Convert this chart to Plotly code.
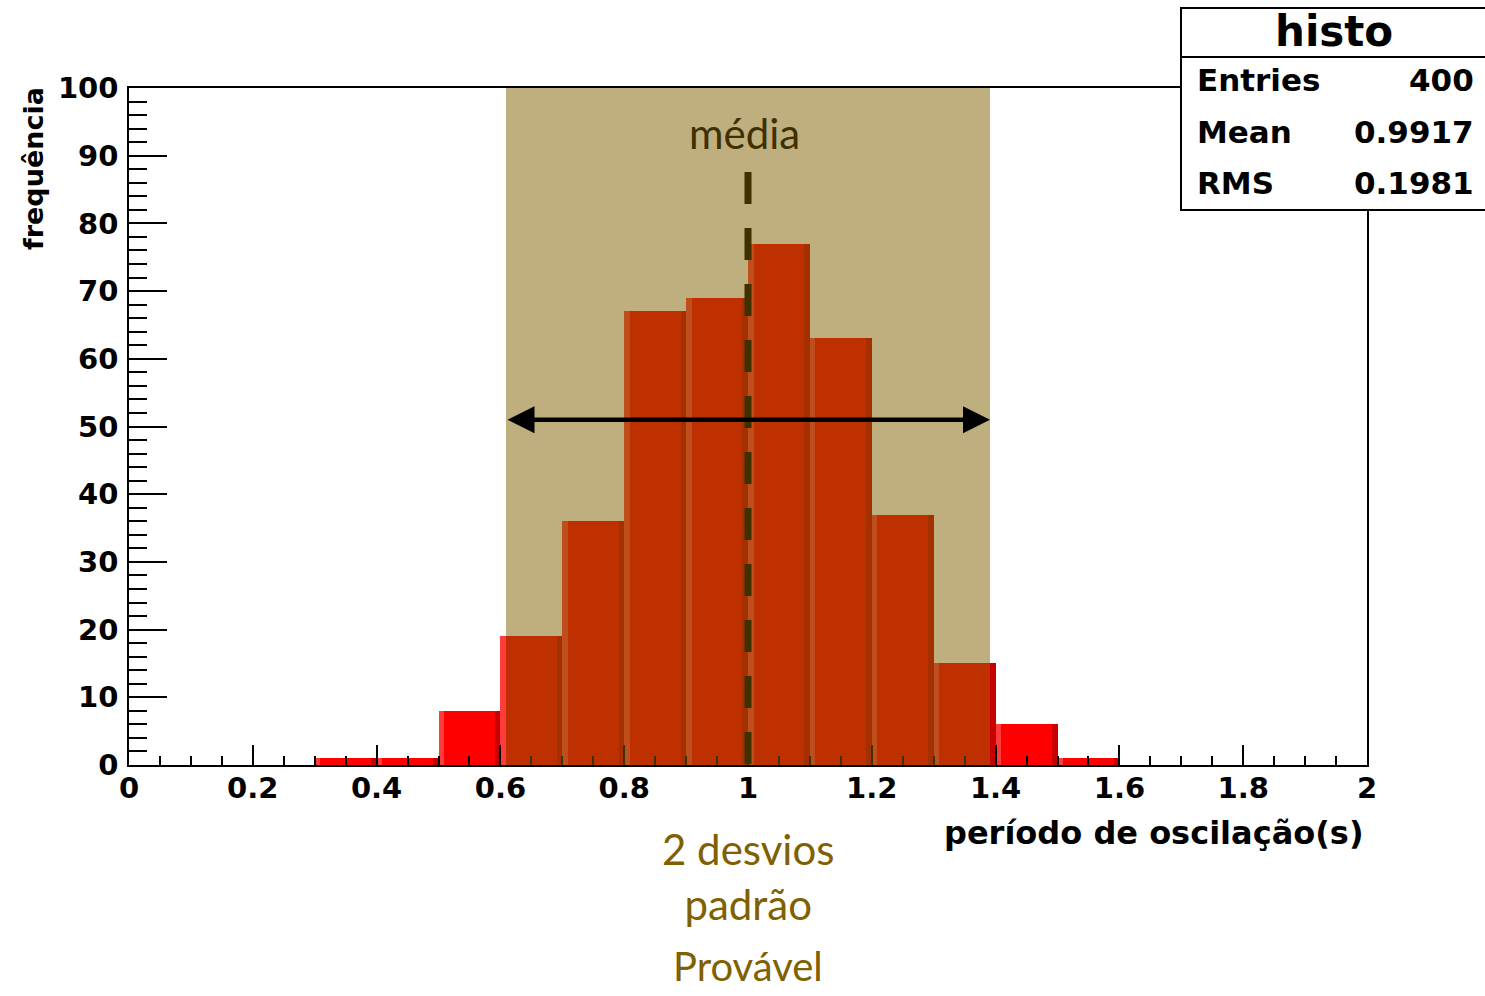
import plotly.graph_objects as go

# ---- data ----
bin_left = [0.3, 0.4, 0.5, 0.6, 0.7, 0.8, 0.9, 1.0, 1.1, 1.2, 1.3, 1.4, 1.5]
counts = [1, 1, 8, 19, 36, 67, 69, 77, 63, 37, 15, 6, 1]
bin_width = 0.1
x_ticks = [0, 0.2, 0.4, 0.6, 0.8, 1.0, 1.2, 1.4, 1.6, 1.8, 2.0]
x_tick_text = ["0", "0.2", "0.4", "0.6", "0.8", "1", "1.2", "1.4", "1.6", "1.8", "2"]
stats_labels = ["Entries", "Mean", "RMS"]
stats_values = ["400", "0.9917", "0.1981"]
mean_line = 1.0
band_lo, band_hi = 0.609, 1.391
arrow_y = 51
dash_top = 87.6

# ---- layout geometry (pixels) ----
W, H = 1485, 996
L, R, T, B = 129, 118, 88, 231
PW, PH = W - L - R, H - T - B


def px(xp):
    return (xp - L) / PW


def py(yp):
    return (H - B - yp) / PH


strip = 0.009
fig = go.Figure()
fig.add_trace(go.Bar(x=bin_left, y=counts, width=bin_width, offset=0,
                     marker=dict(color="#ff0000", line=dict(width=0)), showlegend=False))
fig.add_trace(go.Bar(x=bin_left, y=counts, width=strip, offset=0,
                     marker=dict(color="#ff3c3c", line=dict(width=0)), showlegend=False))
fig.add_trace(go.Bar(x=bin_left, y=counts, width=strip, offset=bin_width - strip,
                     marker=dict(color="#c80000", line=dict(width=0)), showlegend=False))

bold = dict(family="DejaVu Sans", color="black", weight="bold")

fig.update_layout(
    width=W, height=H, autosize=False,
    margin=dict(l=L, r=R, t=T, b=B, pad=0),
    paper_bgcolor="white", plot_bgcolor="white",
    barmode="overlay", bargap=0,
    xaxis=dict(range=[0, 2], tickvals=x_ticks, ticktext=x_tick_text,
               ticks="inside", ticklen=20, tickwidth=1.5, tickcolor="black",
               minor=dict(dtick=0.05, ticks="inside", ticklen=9, tickwidth=1.5, tickcolor="black"),
               showline=True, linecolor="black", linewidth=1.5, mirror=True,
               showgrid=False, zeroline=False, ticklabelstandoff=-4,
               tickfont=dict(size=29, **bold)),
    yaxis=dict(range=[0, 100], dtick=10,
               ticks="inside", ticklen=38, tickwidth=1.5, tickcolor="black",
               minor=dict(dtick=2, ticks="inside", ticklen=18, tickwidth=1.5, tickcolor="black"),
               showline=True, linecolor="black", linewidth=1.5, mirror=True,
               showgrid=False, zeroline=False, ticklabelstandoff=3,
               tickfont=dict(size=29, **bold)),
)

shapes = []
# dashed mean line (under the band)
shapes.append(dict(type="line", xref="x", yref="y", x0=mean_line, x1=mean_line, y0=dash_top, y1=0,
                   line=dict(color="black", width=7, dash="32px,24px"), layer="above"))
# shaded 2-sigma band
shapes.append(dict(type="rect", xref="x", yref="y", x0=band_lo, x1=band_hi, y0=0, y1=100,
                   fillcolor="rgb(128,96,0)", opacity=0.5, line=dict(width=0), layer="above"))
# stats box
shapes.append(dict(type="rect", xref="paper", yref="paper", x0=px(1181), x1=px(1495), y0=py(210), y1=py(8),
                   fillcolor="white", line=dict(color="black", width=2), layer="above"))
shapes.append(dict(type="line", xref="paper", yref="paper", x0=px(1181), x1=px(1495), y0=py(57), y1=py(57),
                   line=dict(color="black", width=2), layer="above"))
fig.update_layout(shapes=shapes)

ann = []
# double arrow
ann.append(dict(x=band_hi, y=arrow_y, ax=band_lo, ay=arrow_y, xref="x", yref="y", axref="x", ayref="y",
                text="", showarrow=True, arrowside="end+start", arrowhead=2, startarrowhead=2,
                arrowsize=1.2, startarrowsize=1.2, arrowwidth=4.5, arrowcolor="black",
                standoff=0, startstandoff=0))
ann.append(dict(x=0.995, y=93.3, xref="x", yref="y", text="média", showarrow=False,
                font=dict(family="Lato", size=42, color="#403000"), xanchor="center", yanchor="middle"))
ann.append(dict(x=px(748), y=py(876), xref="paper", yref="paper", text="2 desvios<br>padrão",
                showarrow=False, font=dict(family="Lato", size=42, color="#806000"),
                xanchor="center", yanchor="middle"))
ann.append(dict(x=px(748), y=py(966), xref="paper", yref="paper", text="Provável",
                showarrow=False, font=dict(family="Lato", size=40, color="#806000"),
                xanchor="center", yanchor="middle", borderpad=0))
# axis titles
ann.append(dict(x=px(33), y=py(169), xref="paper", yref="paper", text="frequência", textangle=-90,
                showarrow=False, font=dict(size=27, **bold), xanchor="center", yanchor="middle"))
ann.append(dict(x=px(1366), y=py(833), xref="paper", yref="paper", text="período de oscilação(s)",
                showarrow=False, font=dict(size=32, **bold), xanchor="right", yanchor="middle"))
# stats box text
ann.append(dict(x=px(1334), y=py(31), xref="paper", yref="paper", text="histo", showarrow=False,
                font=dict(size=42, **bold), xanchor="center", yanchor="middle"))
row_y = [80, 132, 183]
for lab, val, yy in zip(stats_labels, stats_values, row_y):
    ann.append(dict(x=px(1195), y=py(yy), xref="paper", yref="paper", text=lab, showarrow=False,
                    font=dict(size=31, **bold), xanchor="left", yanchor="middle"))
    ann.append(dict(x=px(1476), y=py(yy), xref="paper", yref="paper", text=val, showarrow=False,
                    font=dict(size=31, **bold), xanchor="right", yanchor="middle"))
fig.update_layout(annotations=ann)

fig.write_html("out.html")
